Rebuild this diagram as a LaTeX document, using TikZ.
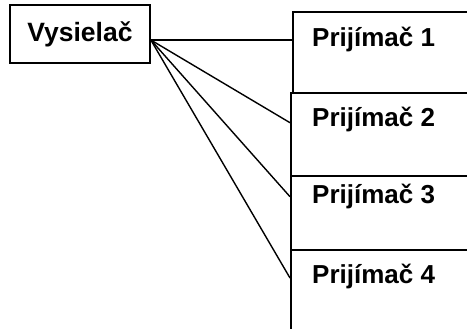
\documentclass[tikz,border=0pt]{standalone}
\usepackage{fontspec}
\setmainfont{Liberation Sans}
\usetikzlibrary{calc}
\begin{document}
\begin{tikzpicture}[
    x=1pt, y=-1pt,
    box/.style={draw,line width=1.7pt,inner sep=0pt},
    lbl/.style={anchor=base west,inner sep=0pt,font=\fontsize{26}{30}\selectfont\bfseries},
    link/.style={line width=1.4pt}
    ]
    \clip (0,0) rectangle (467,329);
    \node[box,minimum width=140pt,minimum height=58pt,font=\fontsize{26.5}{30}\selectfont\bfseries] (vys) at (80,34) {Vysielač};
    \node[box,anchor=north west,minimum width=200pt,minimum height=81pt] (r1) at (292,11) {};
    \node[box,anchor=north west,minimum width=200pt,minimum height=83pt] (r2) at (290,92) {};
    \node[box,anchor=north west,minimum width=200pt,minimum height=74pt] (r3) at (290,175) {};
    \node[box,anchor=north west,minimum width=200pt,minimum height=100pt] (r4) at (290,249) {};
    \node[lbl] (t1) at ($(r1.north west)+(20,36)$) {Prijímač 1};
    \node[lbl] (t2) at ($(r2.north west)+(22,35)$) {Prijímač 2};
    \node[lbl] (t3) at ($(r3.north west)+(22,28.5)$) {Prijímač 3};
    \node[lbl] (t4) at ($(r4.north west)+(22,34.5)$) {Prijímač 4};
    \coordinate (fan) at ($(vys.east)+(0,6)$);
    \coordinate (in1) at ($(r1.north west)+(0,29)$);
    \coordinate (in2) at ($(r2.north west)+(0,30.7)$);
    \coordinate (in3) at ($(r3.north west)+(0,21.7)$);
    \coordinate (in4) at ($(r4.north west)+(0,29)$);
    \foreach \i in {1,...,4}
      \draw[link] (fan) -- (in\i);
\end{tikzpicture}
\end{document}
